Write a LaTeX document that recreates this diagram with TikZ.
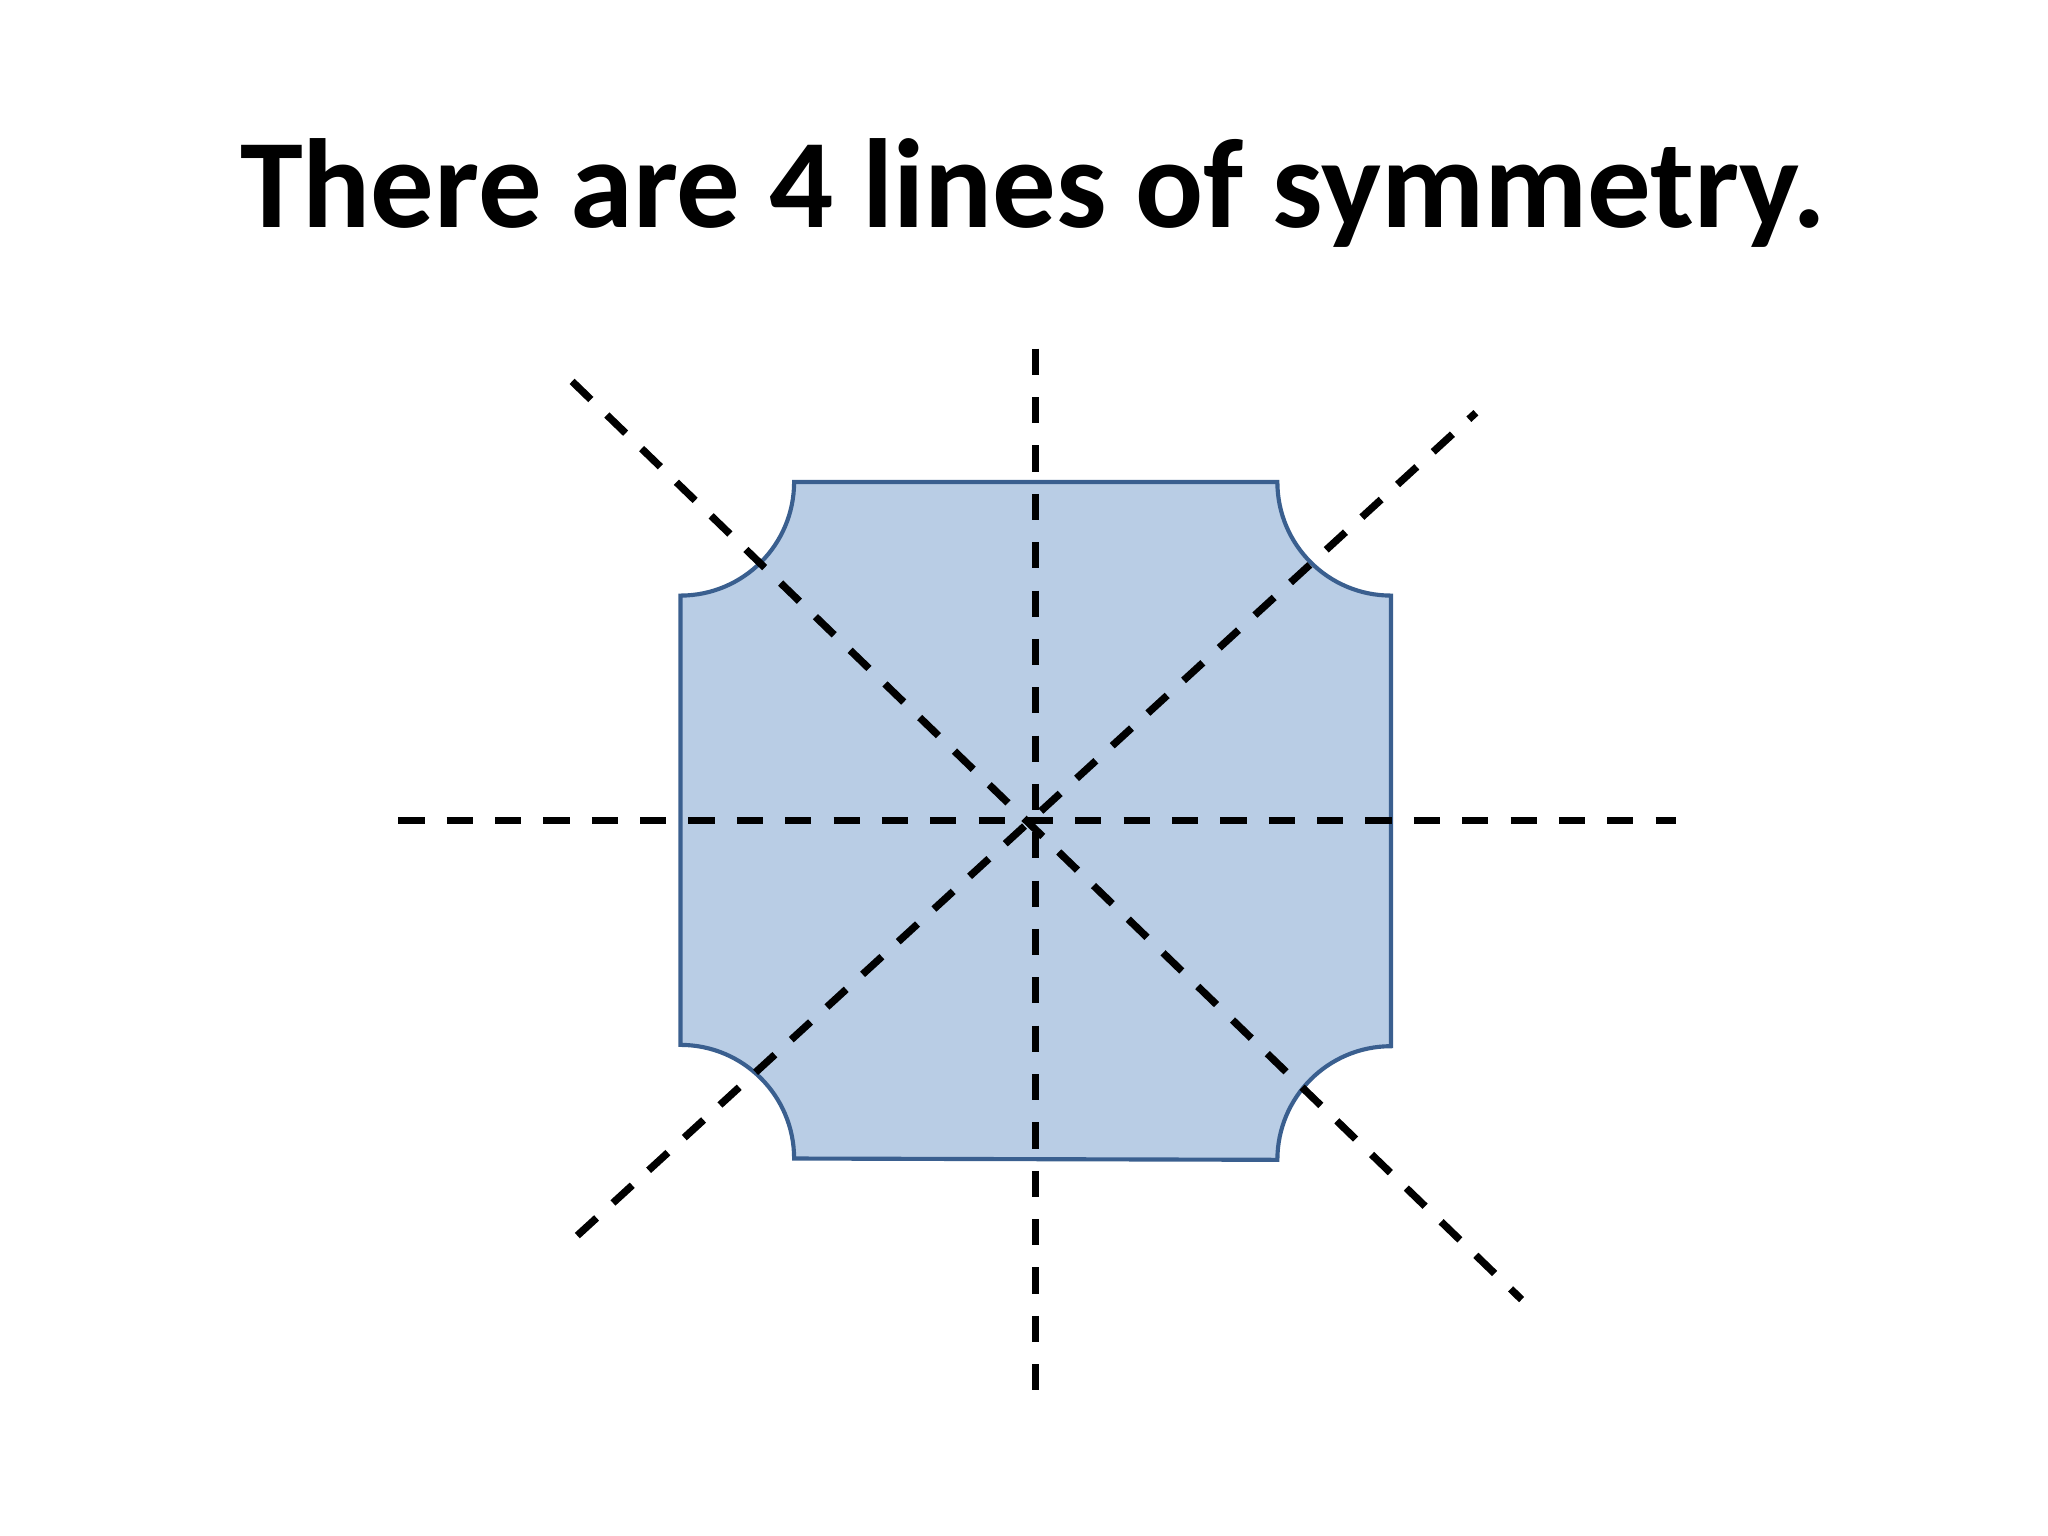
\documentclass[tikz,border=0pt]{standalone}
\usepackage{fontspec}
\setmainfont{Carlito}
\begin{document}
\begin{tikzpicture}[x=0.01cm,y=-0.01cm,
  sym/.style={line width=1.6pt,dash pattern=on 2mm off 1.7mm},
  shp/.style={fill={rgb,255:red,185;green,205;blue,229},draw={rgb,255:red,58;green,95;blue,143},line width=0.9pt}]
\useasboundingbox (0,0) rectangle (1568,1176);
\node (title) at (791,148) {\fontsize{27.6}{31}\selectfont\bfseries There are 4 lines of symmetry.};
\draw[shp] (608,369) -- (978,369) arc[start angle=180,end angle=90,radius=87]
  -- (1065,801) arc[start angle=270,end angle=180,radius=87]
  -- (608,887) arc[start angle=0,end angle=-90,radius=87]
  -- (521,456) arc[start angle=90,end angle=0,radius=87] -- cycle;
\coordinate (vt) at (793,267); \coordinate (vb) at (793,1068);
\coordinate (hl) at (305,628); \coordinate (hr) at (1283,628);
\coordinate (d1a) at (438,292); \coordinate (d1b) at (1165,995);
\coordinate (d2a) at (442,946); \coordinate (d2b) at (1130,316);
\draw[sym] (vt) -- (vb);
\draw[sym] (hl) -- (hr);
\draw[sym] (d1a) -- (d1b);
\draw[sym] (d2a) -- (d2b);
\end{tikzpicture}
\end{document}
